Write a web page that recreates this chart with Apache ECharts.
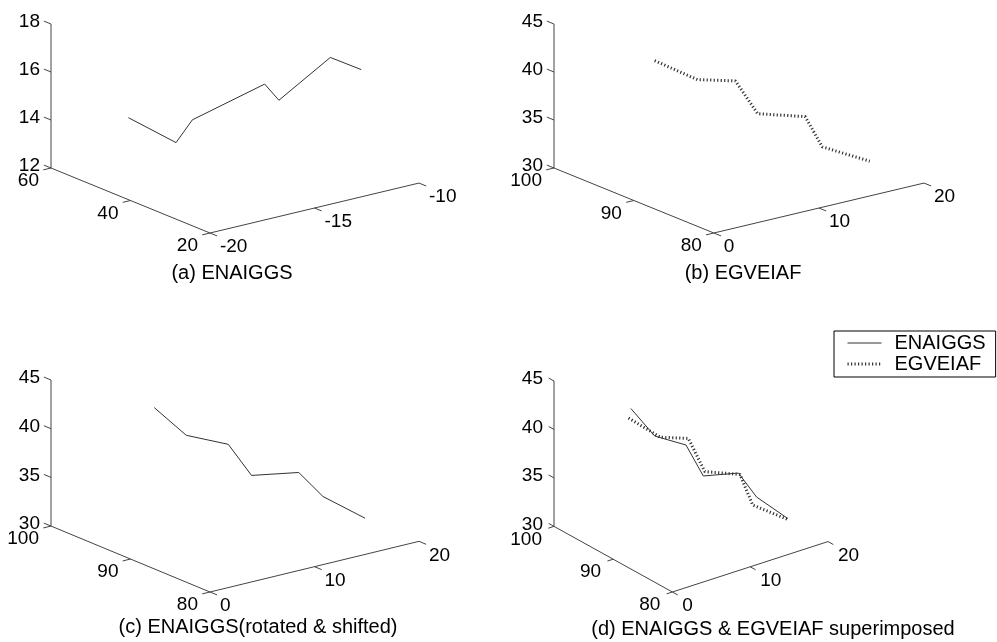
<!DOCTYPE html>
<html>
<head>
<meta charset="utf-8">
<script src="https://cdn.jsdelivr.net/npm/echarts@6/dist/echarts.min.js"></script>
<style>
html, body { margin: 0; padding: 0; background: #fff; }
#main { width: 997px; height: 642px; }
</style>
</head>
<body>
<div id="main"></div>
<script>
// ENAIGGS, original position (panel a)
var enaX = [-18.2, -16.3, -15.9, -13.2, -12.9, -11.2, -10.1];
var enaY = [50, 48, 46, 42, 40, 36, 34];
var enaZ = [14.4, 13.1, 14.1, 15.3, 14.7, 16.4, 15.8];
// ENAIGGS rotated & shifted (panels c, d)
var rotX = [7.6, 9.9, 12.4, 13.1, 16.1, 16.9, 19.4];
var rotY = [97, 96, 94, 92, 90, 88, 86];
var rotZ = [41.2, 38.1, 37.2, 34.5, 34.7, 32.7, 30.5];
// EGVEIAF (panels b, d)
var egvX = [7.3, 10.6, 12.7, 13.3, 16.3, 16.4, 19.4];
var egvY = [97, 96, 94, 92, 90, 88, 86];
var egvZ = [40.3, 37.8, 37.8, 34.9, 34.5, 32.0, 30.4];

// tick labels
var xTicksA = [-20, -15, -10], yTicksA = [20, 40, 60], zTicksA = [12, 14, 16, 18];
var xTicksB = [0, 10, 20], yTicksB = [80, 90, 100], zTicksB = [30, 35, 40, 45];

var captions = ['(a) ENAIGGS', '(b) EGVEIAF', '(c) ENAIGGS(rotated & shifted)', '(d) ENAIGGS & EGVEIAF superimposed'];
var legendNames = ['ENAIGGS', 'EGVEIAF'];

var FONT = '"Liberation Sans", Arial, sans-serif';
var K = { ox: 0.432, ux: 0.568, vx: -0.432, uy: 0.239, vy: 0.311, wy: 0.689 };
var DOTTED = { color: '#333', width: 3, type: [1.2, 2.3] };
var SOLID = { color: '#333', width: 1 };

// normalized box coords -> grid coords (0..1)
function toGrid(u, v, w) {
    return [K.ox + K.ux * u + K.vx * v, K.uy * u + K.vy * v + K.wy * w];
}
function project(box, x, y, z) {
    var u = (x - box.x[0]) / (box.x[1] - box.x[0]);
    var v = (y - box.y[0]) / (box.y[1] - box.y[0]);
    var w = (z - box.z[0]) / (box.z[1] - box.z[0]);
    return toGrid(u, v, w);
}
function path(box, xs, ys, zs) {
    var out = [];
    for (var i = 0; i < xs.length; i++) out.push(project(box, xs[i], ys[i], zs[i]));
    return out;
}

var panels = [
    { rect: { left: 51, top: 24, width: 368, height: 209 }, box: { x: [-20, -10], y: [20, 60], z: [12, 18] },
      ticks: [xTicksA, yTicksA, zTicksA], cap: [232, 273],
      lines: [{ name: 'a-ena', xs: enaX, ys: enaY, zs: enaZ, dot: false }] },
    { rect: { left: 554, top: 24, width: 370, height: 209 }, box: { x: [0, 20], y: [80, 100], z: [30, 45] },
      ticks: [xTicksB, yTicksB, zTicksB], cap: [743, 273],
      lines: [{ name: 'b-egv', xs: egvX, ys: egvY, zs: egvZ, dot: true }] },
    { rect: { left: 51, top: 380, width: 368, height: 212 }, box: { x: [0, 20], y: [80, 100], z: [30, 45] },
      ticks: [xTicksB, yTicksB, zTicksB], cap: [258, 627],
      lines: [{ name: 'c-ena', xs: rotX, ys: rotY, zs: rotZ, dot: false }] },
    { rect: { left: 554, top: 381, width: 274, height: 211 }, box: { x: [0, 20], y: [80, 100], z: [30, 45] },
      ticks: [xTicksB, yTicksB, zTicksB], cap: [773, 629],
      lines: [{ name: legendNames[0], xs: rotX, ys: rotY, zs: rotZ, dot: false },
              { name: legendNames[1], xs: egvX, ys: egvY, zs: egvZ, dot: true }] }
];

function tickRenderer(box) {
    return function (params, api) {
        var kind = api.value(0), val = api.value(1);
        var a, b, align, off;
        if (kind === 0) {
            var t = (val - box.x[0]) / (box.x[1] - box.x[0]);
            a = toGrid(t, 0, 0); b = toGrid(t, -0.045, 0); align = 'left'; off = [10, 14];
        } else if (kind === 1) {
            var t1 = (val - box.y[0]) / (box.y[1] - box.y[0]);
            a = toGrid(0, t1, 0); b = toGrid(-0.037, t1, 0); align = 'right'; off = [-12, 13];
        } else {
            var t2 = (val - box.z[0]) / (box.z[1] - box.z[0]);
            a = toGrid(0, 1, t2); b = toGrid(0, 1.045, t2); align = 'right'; off = [-11, -2];
        }
        var pa = api.coord(a), pb = api.coord(b);
        return {
            type: 'group',
            children: [
                { type: 'line', shape: { x1: pa[0], y1: pa[1], x2: pb[0], y2: pb[1] },
                  style: { stroke: '#444', lineWidth: 1 } },
                { type: 'text', x: pa[0] + off[0], y: pa[1] + off[1],
                  style: { text: String(val), align: align, verticalAlign: 'middle',
                           font: '19px ' + FONT, fill: '#000' } }
            ]
        };
    };
}

var grids = [], xAxes = [], yAxes = [], series = [], graphics = [];
panels.forEach(function (p, i) {
    grids.push(p.rect);
    xAxes.push({ type: 'value', gridIndex: i, min: 0, max: 1, show: false });
    yAxes.push({ type: 'value', gridIndex: i, min: 0, max: 1, show: false });
    var b = p.box;
    series.push({
        type: 'line', name: 'axes' + i, xAxisIndex: i, yAxisIndex: i, symbol: 'none', silent: true, clip: false,
        lineStyle: { color: '#444', width: 1 },
        data: path(b, [b.x[0], b.x[0], b.x[0], b.x[1]], [b.y[1], b.y[1], b.y[0], b.y[0]], [b.z[1], b.z[0], b.z[0], b.z[0]])
    });
    var td = [];
    p.ticks.forEach(function (arr, k) { arr.forEach(function (v) { td.push([k, v]); }); });
    series.push({
        type: 'custom', name: 'ticks' + i, xAxisIndex: i, yAxisIndex: i, silent: true,
        renderItem: tickRenderer(b), data: td
    });
    p.lines.forEach(function (ln) {
        series.push({
            type: 'line', name: ln.name, xAxisIndex: i, yAxisIndex: i, symbol: 'none', clip: false,
            itemStyle: { color: '#333' },
            lineStyle: ln.dot ? DOTTED : SOLID,
            data: path(b, ln.xs, ln.ys, ln.zs)
        });
    });
    graphics.push({
        type: 'text', x: p.cap[0], y: p.cap[1],
        style: { text: captions[i], align: 'center', verticalAlign: 'middle', font: '20px ' + FONT, fill: '#000' }
    });
});

var chart = echarts.init(document.getElementById('main'));
chart.setOption({
    animation: false,
    backgroundColor: '#fff',
    grid: grids,
    xAxis: xAxes,
    yAxis: yAxes,
    legend: {
        data: [
            { name: legendNames[0], lineStyle: SOLID },
            { name: legendNames[1], lineStyle: DOTTED }
        ],
        orient: 'vertical',
        left: 834, top: 331,
        padding: [2, 10, 3, 12],
        itemGap: 1,
        itemWidth: 34,
        itemHeight: 14,
        borderColor: '#000',
        borderWidth: 1,
        selectedMode: false,
        itemStyle: { opacity: 0 },
        textStyle: { fontSize: 20, fontFamily: FONT, color: '#000', padding: [0, 0, 0, 8] }
    },
    graphic: graphics,
    series: series
});
</script>
</body>
</html>
